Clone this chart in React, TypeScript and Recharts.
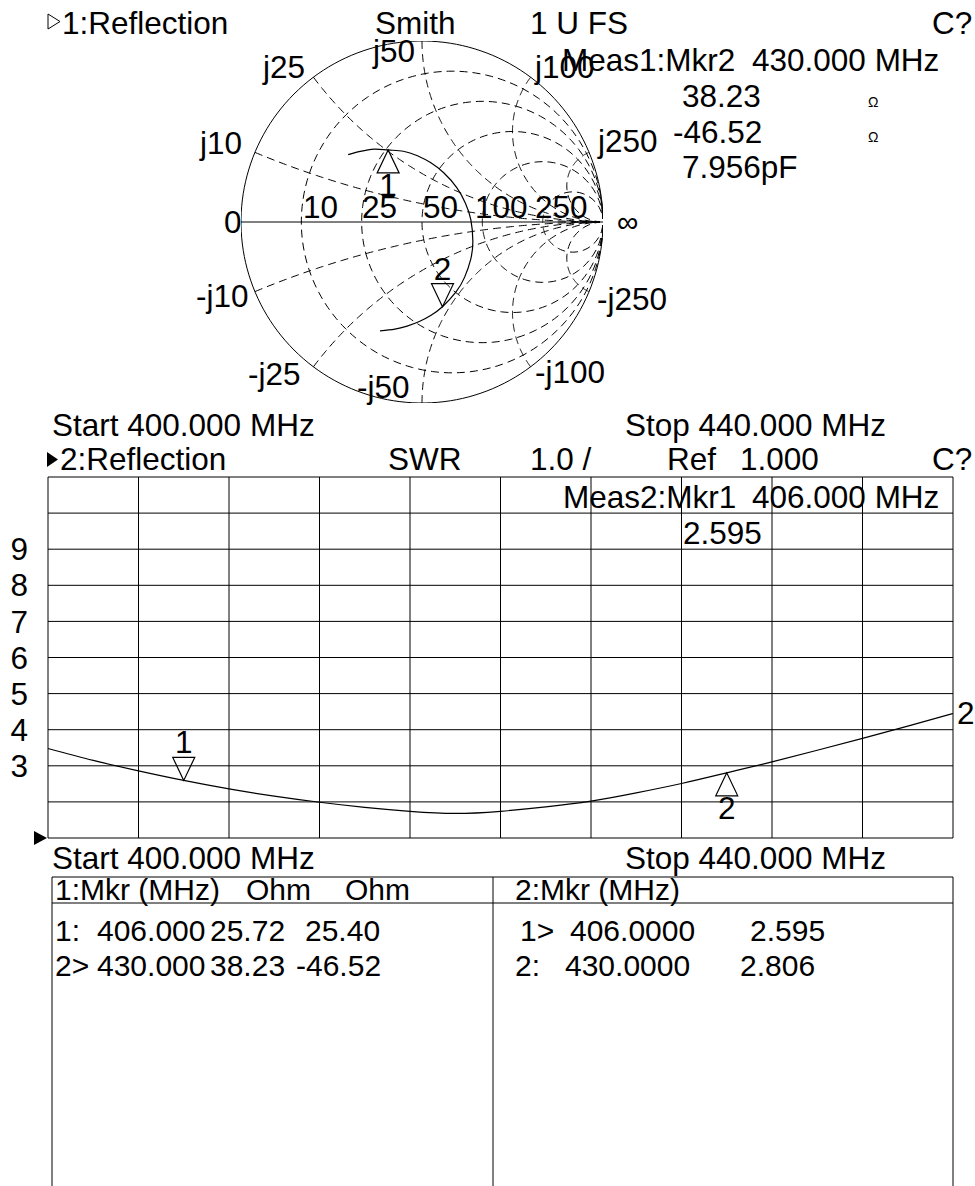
import {
  CartesianGrid,
  ComposedChart,
  Line,
  Scatter,
  ScatterChart,
  XAxis,
  YAxis,
} from "recharts";

const FONT = '"Liberation Sans", Arial, Helvetica, sans-serif';
const FS = 31.5;
const TFS = 30;

// sweep, MHz (one reading every 2 MHz)
const freqs = [400, 402, 404, 406, 408, 410, 412, 414, 416, 418, 420, 422, 424, 426, 428, 430, 432, 434, 436, 438, 440];
// trace 2: SWR
const swr = [3.48, 3.15, 2.86, 2.595, 2.36, 2.16, 1.99, 1.85, 1.74, 1.68, 1.74, 1.86, 2.02, 2.25, 2.51, 2.806, 3.11, 3.43, 3.76, 4.1, 4.45];
// trace 1: reflection coefficient on the Smith chart
const gammaRe = [-0.408, -0.341, -0.264, -0.187, -0.103, -0.025, 0.049, 0.12, 0.193, 0.24, 0.27, 0.281, 0.269, 0.235, 0.187, 0.113, 0.05, -0.015, -0.082, -0.15, -0.232];
const gammaIm = [0.372, 0.39, 0.403, 0.398, 0.391, 0.366, 0.327, 0.272, 0.189, 0.104, 0.012, -0.108, -0.206, -0.306, -0.388, -0.468, -0.515, -0.55, -0.575, -0.592, -0.601];

// markers
const mkrFreq = [406, 430];
const mkrR = [25.72, 38.23];
const mkrX = [25.4, -46.52];
const mkrSwr = [2.595, 2.806];
const Z0 = 50;

// smith grid, normalised
const gridR = [0.2, 0.5, 1, 2, 5];
const gridX = [0.2, 0.5, 1, 2, 5, -0.2, -0.5, -1, -2, -5];

// swr grid
const freqTicks = [400, 404, 408, 412, 416, 420, 424, 428, 432, 436, 440];
const swrTicks = [1, 2, 3, 4, 5, 6, 7, 8, 9, 10, 11];
const swrLabelled = [3, 4, 5, 6, 7, 8, 9];

function gamma(r: number, x: number) {
  const den = (r + 1) * (r + 1) + x * x;
  return { x: (r * r + x * x - 1) / den, y: (2 * x) / den };
}

const steps = Array.from({ length: 180 }, (_, i) => i);
const rCircle = (r: number) =>
  steps.map((i) => gamma(r, Math.tan(((i - 89.5) * Math.PI) / 180)));
const xArc = (x: number) =>
  steps.map((i) => gamma(Math.tan((i * 0.5 * Math.PI) / 180), x));

const smithTrace = freqs.map((f, i) => ({ f, x: gammaRe[i], y: gammaIm[i] }));
const smithMkr = mkrFreq.map((f, i) => ({ f, ...gamma(mkrR[i] / Z0, mkrX[i] / Z0) }));
const swrRows = freqs.map((f, i) => ({ freq: f, swr: swr[i] }));
const swrMkr = mkrFreq.map((f, i) => ({ freq: f, swr: mkrSwr[i] }));

const noDot = () => <g />;

function markerShape(label: string, down: boolean) {
  return (p: any) => {
    const { cx, cy } = p;
    const by = down ? cy - 23 : cy + 23;
    return (
      <g>
        <polygon
          points={`${cx},${cy} ${cx - 11},${by} ${cx + 11},${by}`}
          fill="none"
          stroke="#000"
          strokeWidth={1.2}
        />
        <text
          x={cx}
          y={down ? cy - 27 : cy + 46}
          textAnchor="middle"
          fontFamily={FONT}
          fontSize={FS}
          fill="#000"
        >
          {label}
        </text>
      </g>
    );
  };
}

const dashed = { stroke: "#000", strokeWidth: 1, strokeDasharray: "8 5" };
const solid = { stroke: "#000", strokeWidth: 1.2 };

function T({ x, y, children, size = FS }: { x: number; y: number; children: any; size?: number }) {
  return (
    <text x={x} y={y} fontFamily={FONT} fontSize={size} fill="#000">
      {children}
    </text>
  );
}

function SmithChart() {
  return (
    <ScatterChart width={402} height={402} margin={{ top: 20, right: 20, bottom: 20, left: 20 }}>
      <XAxis type="number" dataKey="x" domain={[-1, 1]} allowDataOverflow hide />
      <YAxis type="number" dataKey="y" domain={[-1, 1]} allowDataOverflow hide />
      {gridR.map((r) => (
        <Scatter key={`r${r}`} data={rCircle(r)} line={dashed} shape={noDot} isAnimationActive={false} />
      ))}
      {gridX.map((x) => (
        <Scatter key={`x${x}`} data={xArc(x)} line={dashed} shape={noDot} isAnimationActive={false} />
      ))}
      <Scatter data={rCircle(0)} line={{ stroke: "#000", strokeWidth: 1 }} shape={noDot} isAnimationActive={false} />
      <Scatter data={[gamma(0, 0), gamma(1e6, 0)]} line={{ stroke: "#000", strokeWidth: 1 }} shape={noDot} isAnimationActive={false} />
      <Scatter
        data={smithTrace}
        line={solid}
        lineJointType="natural"
        shape={noDot}
        isAnimationActive={false}
      />
      <Scatter data={[smithMkr[0]]} shape={markerShape("1", false)} isAnimationActive={false} />
      <Scatter data={[smithMkr[1]]} shape={markerShape("2", true)} isAnimationActive={false} />
    </ScatterChart>
  );
}

function SwrChart() {
  return (
    <ComposedChart width={975} height={381} data={swrRows} margin={{ top: 10, right: 22, bottom: 10, left: 10 }}>
      <CartesianGrid stroke="#000" strokeWidth={1} />
      <XAxis dataKey="freq" type="number" domain={[400, 440]} ticks={freqTicks} hide />
      <YAxis
        type="number"
        domain={[1, 11]}
        ticks={swrTicks}
        interval={0}
        width={38}
        axisLine={false}
        tickLine={false}
        tickSize={0}
        tickMargin={20}
        tick={{ fontSize: FS, fill: "#000", fontFamily: FONT }}
        tickFormatter={(v) => (swrLabelled.includes(v) ? String(v) : "")}
      />
      <Line dataKey="swr" type="natural" stroke="#000" strokeWidth={1.2} dot={false} isAnimationActive={false} />
      <Scatter data={[swrMkr[0]]} dataKey="swr" shape={markerShape("1", true)} isAnimationActive={false} />
      <Scatter data={[swrMkr[1]]} dataKey="swr" shape={markerShape("2", false)} isAnimationActive={false} />
    </ComposedChart>
  );
}

export default function App() {
  const ohm = (v: number) => v.toFixed(2);
  return (
    <div style={{ position: "absolute", left: 0, top: 0, width: 975, height: 1186, background: "#fff" }}>
      <div style={{ position: "absolute", left: 221, top: 21 }}>
        <SmithChart />
      </div>
      <div style={{ position: "absolute", left: 0, top: 467 }}>
        <SwrChart />
      </div>
      <svg width={975} height={1186} style={{ position: "absolute", left: 0, top: 0, pointerEvents: "none" }}>
        {/* trace 1 header */}
        <polygon points="48,14 48,29 60,21.5" fill="#fff" stroke="#000" strokeWidth={1} />
        <T x={62} y={34}>1:Reflection</T>
        <T x={375} y={34}>Smith</T>
        <T x={530} y={34}>1 U FS</T>
        <T x={932} y={34}>C?</T>
        <T x={562} y={71}>Meas1:Mkr2</T>
        <T x={752} y={71}>{mkrFreq[1].toFixed(3)} MHz</T>
        <T x={682} y={107}>{ohm(mkrR[1])}</T>
        <T x={868} y={107} size={14}>Ω</T>
        <T x={673} y={143}>{ohm(mkrX[1])}</T>
        <T x={868} y={142} size={14}>Ω</T>
        <T x={682} y={178}>7.956pF</T>

        {/* smith labels */}
        <T x={373} y={62}>j50</T>
        <T x={263} y={78}>j25</T>
        <T x={535} y={78}>j100</T>
        <T x={200} y={154}>j10</T>
        <T x={598} y={152}>j250</T>
        <T x={224} y={233}>0</T>
        <T x={303} y={218}>10</T>
        <T x={362} y={218}>25</T>
        <T x={423} y={218}>50</T>
        <T x={475} y={218}>100</T>
        <T x={535} y={218}>250</T>
        <T x={617} y={232} size={30}>∞</T>
        <T x={196} y={307}>-j10</T>
        <T x={597} y={310}>-j250</T>
        <T x={248} y={385}>-j25</T>
        <T x={357} y={398}>-j50</T>
        <T x={535} y={383}>-j100</T>

        {/* trace 2 header */}
        <T x={52} y={436}>Start 400.000 MHz</T>
        <T x={625} y={436}>Stop 440.000 MHz</T>
        <polygon points="47,452 47,467 58,459.5" fill="#000" />
        <T x={60} y={470}>2:Reflection</T>
        <T x={388} y={470}>SWR</T>
        <T x={530} y={470}>1.0 /</T>
        <T x={667} y={470}>Ref</T>
        <T x={740} y={470}>1.000</T>
        <T x={932} y={470}>C?</T>
        <T x={563} y={508}>Meas2:Mkr1</T>
        <T x={752} y={508}>{mkrFreq[0].toFixed(3)} MHz</T>
        <T x={683} y={544}>{mkrSwr[0].toFixed(3)}</T>
        <T x={957} y={724}>2</T>
        <polygon points="34,831 34,845 47,838" fill="#000" />
        <T x={52} y={869}>Start 400.000 MHz</T>
        <T x={625} y={869}>Stop 440.000 MHz</T>

        {/* marker table */}
        <line x1={52} y1={877} x2={953} y2={877} stroke="#000" />
        <line x1={52} y1={903} x2={953} y2={903} stroke="#000" />
        <line x1={52} y1={877} x2={52} y2={1186} stroke="#000" />
        <line x1={493} y1={877} x2={493} y2={1186} stroke="#000" />
        <line x1={953} y1={877} x2={953} y2={1186} stroke="#000" />
        <T x={55} y={900} size={TFS}>1:Mkr (MHz)</T>
        <T x={246} y={900} size={TFS}>Ohm</T>
        <T x={345} y={900} size={TFS}>Ohm</T>
        <T x={515} y={900} size={TFS}>2:Mkr (MHz)</T>
        <T x={55} y={941} size={TFS}>1:</T>
        <T x={97} y={941} size={TFS}>{mkrFreq[0].toFixed(3)}</T>
        <T x={210} y={941} size={TFS}>{ohm(mkrR[0])}</T>
        <T x={305} y={941} size={TFS}>{ohm(mkrX[0])}</T>
        <T x={55} y={976} size={TFS}>2&gt;</T>
        <T x={97} y={976} size={TFS}>{mkrFreq[1].toFixed(3)}</T>
        <T x={210} y={976} size={TFS}>{ohm(mkrR[1])}</T>
        <T x={296} y={976} size={TFS}>{ohm(mkrX[1])}</T>
        <T x={520} y={941} size={TFS}>1&gt;</T>
        <T x={570} y={941} size={TFS}>{mkrFreq[0].toFixed(4)}</T>
        <T x={750} y={941} size={TFS}>{mkrSwr[0].toFixed(3)}</T>
        <T x={515} y={976} size={TFS}>2:</T>
        <T x={565} y={976} size={TFS}>{mkrFreq[1].toFixed(4)}</T>
        <T x={740} y={976} size={TFS}>{mkrSwr[1].toFixed(3)}</T>
      </svg>
    </div>
  );
}
